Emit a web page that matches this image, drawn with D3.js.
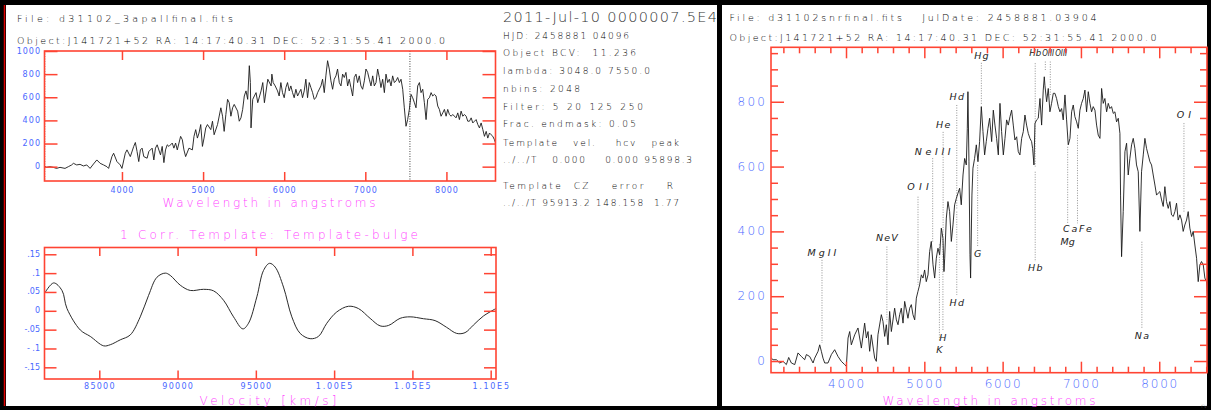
<!DOCTYPE html>
<html>
<head>
<meta charset="utf-8">
<script src="https://cdn.jsdelivr.net/npm/d3@7"></script>
<style>
  body { margin: 0; background: #000; }
  svg text { font-family: "DejaVu Sans ExtraLight", "DejaVu Sans", sans-serif; font-weight: 200; }
  svg text.tk { font-family: "DejaVu Sans", sans-serif; font-weight: normal; }
</style>
</head>
<body>
<svg id="chart" width="1211" height="410"></svg>
<script>
// ---- data ----

// object spectrum (left, top)
const objWave = [3041,3070,3112,3153,3194,3236,3298,3339,3380,3401,3442,3483,3525,3566,3607,3649,3690,3731,3773,3814,
  3835,3876,3897,3938,3979,4000,4041,4062,4103,4145,4165,4186,4207,4227,4248,4269,4310,4331,4372,4393,
  4413,4434,4475,4496,4517,4537,4558,4579,4620,4640,4661,4682,4723,4744,4764,4785,4826,4868,4888,4909,
  4930,4950,4971,4992,5012,5033,5054,5095,5116,5136,5178,5219,5240,5260,5281,5302,5322,5343,5364,5384,
  5426,5446,5467,5488,5508,5529,5550,5570,5583,5591,5612,5632,5653,5674,5715,5736,5756,5798,5839,
  5848,5864,5889,5918,5938,5959,5979,6000,6021,6041,6062,6082,6103,6123,6144,6165,6185,6206,6226,6247,
  6267,6288,6309,6329,6350,6370,6391,6412,6453,6473,6494,6514,6535,6556,6576,6597,6617,6638,6658,6679,
  6700,6720,6741,6761,6782,6802,6823,6844,6864,6885,6905,6926,6946,6967,6988,7008,7029,7049,7070,7091,
  7111,7132,7152,7173,7193,7214,7235,7255,7276,7296,7317,7337,7358,7379,7399,7420,7440,7461,7481,7502,
  7522,7543,7564,7584,7605,7625,7646,7667,7687,7708,7728,7749,7769,7790,7811,7831,7852,7872,7893,7913,
  7934,7955,7975,7996,8016,8037,8058,8078,8119,8140,8160,8181,8202,8222,8243,8263,8284,8305,8325,8346,
  8366,8387,8407,8428,8449,8469,8490,8510,8531,8551,8572,8592,8613];
const objFlux = [6,-6,0,-6,-15,-6,-15,0,15,29,15,20,6,15,-15,23,58,29,15,0,
  -15,87,116,44,15,-15,116,145,87,175,209,131,44,145,160,87,73,131,160,58,
  160,189,102,175,35,145,189,175,204,160,204,145,262,233,145,87,160,145,262,320,
  247,291,364,175,247,335,364,320,393,276,364,509,436,305,451,582,553,436,509,538,
  480,393,422,495,611,655,582,873,727,335,582,611,640,553,655,727,553,756,698,
  800,727,698,655,611,727,640,596,684,727,655,698,640,596,669,611,640,669,596,655,
  756,596,727,684,640,582,596,640,698,756,640,785,916,844,742,669,756,785,844,727,
  698,800,771,815,698,756,684,611,771,800,727,785,698,669,742,844,815,756,698,785,
  698,727,844,771,684,756,640,800,727,756,698,785,727,742,771,727,756,669,509,349,
  407,495,625,596,553,509,698,727,640,669,553,407,582,596,640,611,625,611,524,495,
  436,465,495,436,495,451,436,451,422,465,407,480,436,451,436,393,393,422,378,393,
  407,364,335,378,320,262,305,247,291,276,262,233,189];
const lambdaRange = [3048.0, 7550.0];

// cross-correlation (left, bottom)
const corrVel = [81500,82085,82617,82936,83787,84426,85277,85702,86340,86979,87617,88149,88681,89213,89532,
  90170,90809,91660,92298,92936,93574,94170,94532,95064,95489,95872,96234,96766,97298,97830,98468,99000,
  99532,100170,100915,101553,102298,102936,103468,104213,104851,105702,106447,107191,107830,108362,108894,
  109532,110340];
const corrVal = [0.046,0.074,0.054,0.006,-0.051,-0.068,-0.093,-0.090,-0.077,-0.064,-0.016,0.041,0.089,0.100,0.094,
  0.068,0.054,0.057,0.053,0.028,-0.016,-0.048,-0.033,0.037,0.107,0.126,0.116,0.063,-0.016,-0.060,-0.074,-0.068,
  -0.033,-0.003,0.012,0.006,-0.020,-0.040,-0.039,-0.020,-0.016,-0.021,-0.026,-0.044,-0.060,-0.058,-0.038,
  -0.014,0.006];
const corrTicks = [0.15, 0.1, 0.05, 0, -0.05, -0.1, -0.15];
const corrTickLabels = [".15", ".1", ".05", "0", "-.05", "- .1", "-.15"];
const velTicks = [85000, 90000, 95000, 100000, 105000, 110000];
const velTickLabels = ["85000", "90000", "95000", "1.00E5", "1.05E5", "1.10E5"];

// smoothed spectrum with line identifications (right)
const snrWave = [3047,3068,3111,3153,3196,3238,3268,3302,3345,3387,3430,3472,3494,3536,3579,3600,3643,3664,3685,3706,
  3728,3770,3813,3855,3898,3940,3983,4004,4026,4047,4068,4111,4153,4196,4238,4260,4281,4302,4323,4366,
  4387,4408,4451,4472,4494,4515,4536,4557,4579,4621,4643,4664,4685,4706,4728,4749,4791,4813,4834,4855,
  4877,4898,4919,4940,4962,4983,5004,5025,5047,5068,5089,5111,5132,5153,5174,5196,5217,5238,5251,5260,
  5281,5302,5323,5345,5366,5387,5409,5430,5451,5472,5494,5515,5536,5549,5557,5570,5583,5591,5608,5621,
  5642,5664,5685,5706,5728,5749,5770,5791,5813,5834,
  5860,5881,5902,5923,5945,5966,5987,6009,6030,6051,6072,6094,6115,6136,6157,6179,6200,6221,6243,6264,
  6285,6306,6328,6349,6370,6383,6400,6413,6434,6455,6477,6498,6519,6532,6540,6562,6583,6604,6625,6647,
  6668,6689,6711,6732,6753,6774,6796,6817,6838,6860,6881,6902,6923,6945,6966,6987,7008,7030,7051,7072,
  7094,7115,7136,7157,7179,7200,7221,7243,7264,7285,7306,7328,7349,7370,7391,7413,7434,7455,7477,7498,
  7506,7519,7540,7562,7583,7604,7625,7647,7668,7689,7710,7732,7753,7774,7796,7817,7838,7859,7881,7902,
  7923,7945,7966,7987,8008,8030,8051,8072,8093,8115,8136,8157,8179,8200,8221,8242,8264,8285,8306,8327,
  8349,8370,8391,8413,8434,8455,8477,8498,8519,8540,8562,8583,8604,8617];
const snrFlux = [9,4,4,-6,-1,-11,11,-6,-11,25,14,4,20,14,-6,9,30,50,30,9,
  -6,-6,20,35,14,-1,-11,-16,71,91,50,81,102,40,117,71,91,30,81,9,
  -1,81,143,122,76,112,50,153,91,163,127,112,143,163,117,184,132,163,174,143,
  127,194,215,235,266,256,281,245,266,338,369,297,256,317,348,328,410,379,276,317,
  441,492,461,369,420,482,502,518,533,482,574,625,605,718,831,615,328,256,512,595,
  625,667,615,677,785,708,636,677,718,749,
  677,774,728,687,636,795,708,636,687,744,728,754,774,728,682,692,646,636,687,708,
  759,728,702,687,677,656,605,733,744,749,810,728,836,877,851,800,841,769,795,826,
  826,810,785,769,779,744,821,744,667,687,769,790,754,738,718,774,795,810,836,769,
  831,795,769,785,774,728,697,687,841,795,810,769,795,779,785,764,769,738,749,702,
  512,322,461,646,672,574,625,667,687,656,605,584,400,584,636,687,656,636,615,605,
  574,543,512,518,523,497,477,538,492,471,492,451,446,461,487,435,451,435,400,420,
  435,461,410,384,400,358,317,245,297,307,297,256,245,194];
const redshiftCZ = 95913.2;
const lightSpeed = 299792.458;

// line identifications: name, rest wavelength, label level, dotted line top and bottom (flux units)
const lineNames  = ["MgII","NeV","OII","NeIII","He","Hd","Hg","Hb","OIII","OIII","OI",
                    "K","H","Hd","G","Hb","Mg","CaFe","Na"];
const lineRest   = [2798,3426,3727,3869,3970,4102,4340,4861,4959,5007,6300,
                    3934,3968,4102,4304,4861,5175,5270,5893];
const lineLabel  = [336,380,538,648,731,816,944,950,950,950,762,
                    37,72,182,332,288,370,410,80];
const lineTop    = [312,353,507,626,707,790,920,919,924,924,734,
                    360,400,461,605,584,661,697,368];
const lineBottom = [56,121,235,368,400,470,790,600,898,821,461,
                    62,93,204,353,306,425,425,101];

const specTicks = [4000, 5000, 6000, 7000, 8000];

// ---- drawing ----
const svg = d3.select("#chart");
const RED = "#ff4433", BLUE = "#4a68ff", MAGENTA = "#ff44ff", INK = "#000";

// panels
svg.append("rect").attr("x", 0).attr("y", 0).attr("width", 1211).attr("height", 410).attr("fill", "#000");
svg.append("rect").attr("x", 6).attr("y", 5).attr("width", 711).attr("height", 401).attr("fill", "#fff");
svg.append("rect").attr("x", 722).attr("y", 5).attr("width", 485).attr("height", 401).attr("fill", "#fff");
svg.append("line").attr("x1", 4.5).attr("x2", 4.5).attr("y1", 5).attr("y2", 406).attr("stroke", "#d00").attr("stroke-width", 1.5);

function text(g, str, x, y, o) {
  const t = g.append("text")
      .attr("x", x).attr("y", y)
      .attr("dominant-baseline", "central")
      .attr("font-size", o.size)
      .attr("fill", o.fill || INK)
      .attr("text-anchor", o.anchor || "start")
      .attr("xml:space", "preserve")
      .text(str);
  if (o.len) t.attr("textLength", o.len).attr("lengthAdjust", o.squeeze ? "spacingAndGlyphs" : "spacing");
  if (o.italic) t.attr("font-style", "italic");
  if (o.cls) t.attr("class", o.cls);
  return t;
}

function styleAxis(g) {
  g.select(".domain").remove();
  g.selectAll(".tick line").attr("stroke", RED).attr("stroke-width", 1.5);
}

function frame(g, x, y, xMajor, yMajor, xLen, yLen, xMinor, yMinor, xMinLen, yMinLen) {
  const [x0, x1] = x.range(), [y0, y1] = y.range();
  const axes = [
    [d3.axisBottom(x), y0, xMajor, xLen, "x"], [d3.axisTop(x), y1, xMajor, xLen, "x"],
    [d3.axisLeft(y), x0, yMajor, yLen, "y"], [d3.axisRight(y), x1, yMajor, yLen, "y"]];
  if (xMinor) axes.push([d3.axisBottom(x), y0, xMinor, xMinLen, "x"], [d3.axisTop(x), y1, xMinor, xMinLen, "x"]);
  if (yMinor) axes.push([d3.axisLeft(y), x0, yMinor, yMinLen, "y"], [d3.axisRight(y), x1, yMinor, yMinLen, "y"]);
  axes.forEach(([ax, pos, vals, len, dim]) => {
    const a = g.append("g")
        .attr("transform", dim === "x" ? `translate(0,${pos})` : `translate(${pos},0)`)
        .call(ax.tickValues(vals).tickSize(-len).tickFormat(""));
    styleAxis(a);
  });
  g.append("rect").attr("x", x0).attr("y", y1).attr("width", x1 - x0).attr("height", y0 - y1)
      .attr("fill", "none").attr("stroke", RED).attr("stroke-width", 1.6);
}

function clip(id, x, y) {
  const [x0, x1] = x.range(), [y0, y1] = y.range();
  svg.append("clipPath").attr("id", id).append("rect")
      .attr("x", x0).attr("y", y1).attr("width", x1 - x0).attr("height", y0 - y1);
  return `url(#${id})`;
}

// ---------- left panel ----------
const L = svg.append("g");
text(L, "File: d31102_3apallfinal.fits", 17, 18.5, {size: 9.5, len: 216});
text(L, "Object:J141721+52 RA: 14:17:40.31 DEC: 52:31:55.41 2000.0", 17, 40.5, {size: 9.5, len: 428});

// spectrum
const xs = d3.scaleLinear().domain([3045, 8605]).range([44.5, 495.5]);
const ys = d3.scaleLinear().domain([-124, 1000]).range([181, 51]);
const specData = objWave.map((w, i) => [w, objFlux[i]]);
L.append("path").datum(specData)
    .attr("clip-path", clip("c1", xs, ys))
    .attr("fill", "none").attr("stroke", "#1a1a1a").attr("stroke-width", 0.9)
    .attr("d", d3.line().x(d => xs(d[0])).y(d => ys(d[1])));
L.selectAll(".lam").data(lambdaRange).join("line")
    .attr("x1", d => xs(d)).attr("x2", d => xs(d)).attr("y1", ys.range()[1]).attr("y2", ys.range()[0])
    .attr("stroke", "#111").attr("stroke-width", 0.8).attr("stroke-dasharray", "1,1.5");
frame(L, xs, ys, specTicks, d3.range(0, 1001, 200), 9, 13);
specTicks.forEach(v => text(L, String(v), xs(v), 190, {size: 8, fill: BLUE, anchor: "middle", len: 23, cls: "tk"}));
d3.range(0, 1001, 200).forEach(v => text(L, String(v), 40, ys(v), {size: 8, fill: BLUE, anchor: "end", len: String(v).length * 5.8, cls: "tk"}));
text(L, "Wavelength in angstroms", 269, 203, {size: 12, fill: MAGENTA, anchor: "middle", len: 213});

// correlation
text(L, "1 Corr. Template: Template-bulge", 269, 234.5, {size: 12, fill: MAGENTA, anchor: "middle", len: 298});
const xc = d3.scaleLinear().domain([81500, 110340]).range([44.5, 496]);
const yc = d3.scaleLinear().domain([-0.181, 0.168]).range([379, 247.5]);
const corrData = corrVel.map((v, i) => [v, corrVal[i]]);
L.append("path").datum(corrData)
    .attr("clip-path", clip("c2", xc, yc))
    .attr("fill", "none").attr("stroke", "#2a2a2a").attr("stroke-width", 1)
    .attr("d", d3.line().curve(d3.curveCatmullRom).x(d => xc(d[0])).y(d => yc(d[1])));
frame(L, xc, yc, velTicks, corrTicks, 8.5, 12);
velTicks.forEach((v, i) => text(L, velTickLabels[i], xc(v), 386.5, {size: 8, fill: BLUE, anchor: "middle", len: velTickLabels[i].length * 6.1, cls: "tk"}));
corrTicks.forEach((v, i) => text(L, corrTickLabels[i], 40, yc(v), {size: 8, fill: BLUE, anchor: "end", cls: "tk"}));
text(L, "Velocity [km/s]", 268, 400.5, {size: 12, fill: MAGENTA, anchor: "middle", len: 137});

// fit summary
const info = [
  ["HJD: 2458881 04096", 35.7, 126], ["Object BCV:  11.236", 53.3, 133], ["lambda: 3048.0 7550.0", 71, 147],
  ["nbins: 2048", 89, 77], ["Filter: 5 20 125 250", 106.7, 140], ["Frac. endmask: 0.05", 124.3, 133],
  ["Template   vel.    hcv   peak", 143, 176], ["../../T   0.000    0.000 95898.3", 160, 189],
  ["Template  CZ    error    R", 185.5, 170], ["../../T 95913.2 148.158  1.77", 203, 176]];
text(L, "2011-Jul-10 0000007.5E4", 503, 17, {size: 14.5, fill: "#333", len: 214});
info.forEach(([s, y, w]) => text(L, s, 503, y, {size: 9, len: w}));

// ---------- right panel ----------
const R = svg.append("g");
text(R, "File: d31102snrfinal.fits   JulDate: 2458881.03904", 729.5, 17, {size: 9.5, len: 367});
text(R, "Object:J141721+52 RA: 14:17:40.31 DEC: 52:31:55.41 2000.0", 729.5, 37.3, {size: 9.5, len: 427});

const xr = d3.scaleLinear().domain([3042, 8610]).range([771, 1207]);
const yr = d3.scaleLinear().domain([-36, 968]).range([372.7, 47.3]);
const z1 = 1 + redshiftCZ / lightSpeed;

// dotted identification lines and labels; labels that crowd each other at one level are packed side by side
const placed = [];
lineNames.forEach((n, i) => {
  const wx = xr(lineRest[i] * z1);
  R.append("line")
      .attr("x1", wx).attr("x2", wx).attr("y1", yr(lineTop[i])).attr("y2", yr(lineBottom[i]))
      .attr("stroke", "#777").attr("stroke-width", 0.8).attr("stroke-dasharray", "1,1.5");
  const crowd = lineNames.some((m, j) => j !== i && lineLabel[j] === lineLabel[i] &&
      Math.abs(xr(lineRest[j] * z1) - wx) < 20);
  let w = n.length > 1 ? n.length * 7.2 : null, cx = wx;
  if (crowd) {
    w = 12;
    const prev = placed.filter(p => p.level === lineLabel[i]).pop();
    if (prev && cx - w / 2 < prev.right + 1) cx = prev.right + 1 + w / 2;
    placed.push({level: lineLabel[i], right: cx + w / 2});
  }
  text(R, n, cx, yr(lineLabel[i]), {size: crowd ? 8.5 : 9.5, fill: "#222", anchor: "middle", italic: true,
    len: w, squeeze: crowd});
});

const snrData = snrWave.map((w, i) => [w, snrFlux[i]]);
R.append("path").datum(snrData)
    .attr("clip-path", clip("c3", xr, yr))
    .attr("fill", "none").attr("stroke", "#1a1a1a").attr("stroke-width", 0.9)
    .attr("d", d3.line().x(d => xr(d[0])).y(d => yr(d[1])));
frame(R, xr, yr, specTicks, d3.range(0, 801, 200), 11, 13,
      d3.range(3200, 8601, 200).filter(v => v % 1000), d3.range(-0, 951, 50).filter(v => v % 200), 6, 7);
specTicks.forEach(v => text(R, String(v), xr(v), 384, {size: 12, fill: BLUE, anchor: "middle", len: 36}));
d3.range(0, 801, 200).forEach(v => text(R, String(v), 765, yr(v), {size: 12, fill: BLUE, anchor: "end", len: String(v).length * 9.2}));
text(R, "Wavelength in angstroms", 989, 400.5, {size: 12, fill: MAGENTA, anchor: "middle", len: 213});
text(R, "rv", 1201, 405, {size: 6, fill: "#666"});
</script>
</body>
</html>
